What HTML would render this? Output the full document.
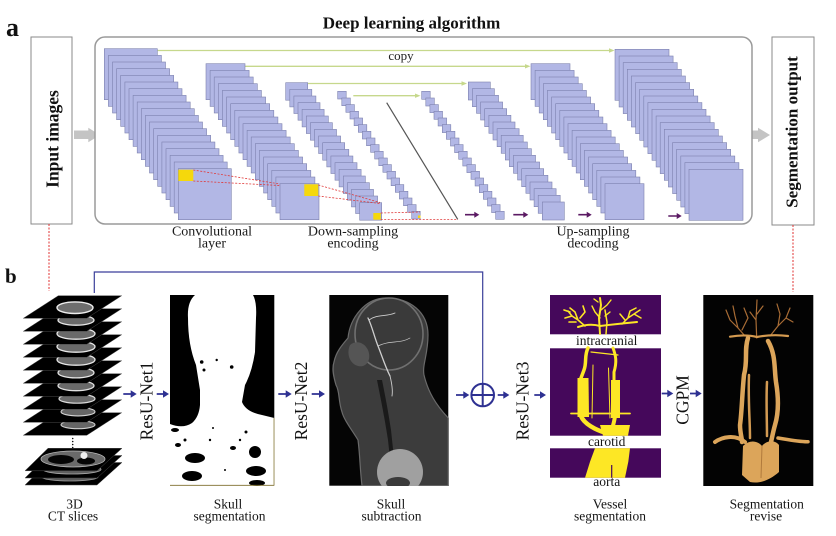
<!DOCTYPE html>
<html><head><meta charset="utf-8"><style>
html,body{margin:0;padding:0;background:#fff;}
svg{display:block;font-family:"Liberation Serif",serif;}
.s rect{fill:#b2b7e5;stroke:#7c81ae;stroke-width:.6;}
.t{font-size:13.5px;fill:#151515;text-anchor:middle;}
.ta{font-size:14px;fill:#1a1a1a;text-anchor:middle;}
.blue{fill:#2e3192;}
</style></head><body>
<svg width="836" height="536" viewBox="0 0 836 536" xmlns="http://www.w3.org/2000/svg">
<rect width="836" height="536" fill="#fff"/>

<text x="6" y="36" font-size="26" font-weight="bold" fill="#111">a</text>
<text x="5" y="283" font-size="21" font-weight="bold" fill="#111">b</text>
<text x="411.5" y="28.5" font-size="17" font-weight="bold" text-anchor="middle" fill="#111">Deep learning algorithm</text>

<rect x="31" y="37" width="41" height="187" fill="#fff" stroke="#8a8a8a" stroke-width="1"/>
<text transform="translate(58.6,139) rotate(-90)" font-size="17.5" font-weight="bold" text-anchor="middle" fill="#111">Input images</text>
<rect x="772" y="37" width="42" height="188" fill="#fff" stroke="#8a8a8a" stroke-width="1"/>
<text transform="translate(797.5,132) rotate(-90)" font-size="17" font-weight="bold" text-anchor="middle" fill="#111">Segmentation output</text>

<path d="M74,130.5 H88.3 V127.7 L100,135 L88.3,142.3 V139 H74 Z" fill="#c4c4c4"/>
<path d="M744,130.5 H758 V127.7 L770,135 L758,142.3 V139 H744 Z" fill="#c4c4c4"/>

<rect x="95" y="37" width="657" height="187" rx="10" ry="10" fill="#fff" stroke="#9a9a9a" stroke-width="1.5"/>

<g stroke="#c6d88c" stroke-width="1.3" fill="none">
<line x1="157.7" y1="50.5" x2="610" y2="50.5"/>
<line x1="245" y1="66.3" x2="526" y2="66.3"/>
<line x1="307.3" y1="83.5" x2="462.5" y2="83.5"/>
<line x1="353.3" y1="95.7" x2="416" y2="95.7"/>
</g>
<g fill="#c6d88c">
<polygon points="609,48.3 614.5,50.5 609,52.7"/>
<polygon points="525,64.1 530.5,66.3 525,68.5"/>
<polygon points="461.5,81.3 467,83.5 461.5,85.7"/>
<polygon points="415,93.5 420.5,95.7 415,97.9"/>
</g>
<text x="401" y="60" font-size="13" text-anchor="middle" fill="#222">copy</text>

<g class="s" transform="translate(104.3,48.7)">
<rect x="0" y="0" width="53" height="51"/><rect x="4.1" y="6.7" width="53" height="51"/><rect x="8.2" y="13.3" width="53" height="51"/><rect x="12.3" y="20" width="53" height="51"/><rect x="16.4" y="26.7" width="53" height="51"/><rect x="20.6" y="33.3" width="53" height="51"/><rect x="24.7" y="40" width="53" height="51"/><rect x="28.8" y="46.7" width="53" height="51"/><rect x="32.9" y="53.3" width="53" height="51"/><rect x="37" y="60" width="53" height="51"/><rect x="41.1" y="66.7" width="53" height="51"/><rect x="45.2" y="73.3" width="53" height="51"/><rect x="49.3" y="80" width="53" height="51"/><rect x="53.4" y="86.7" width="53" height="51"/><rect x="57.6" y="93.3" width="53" height="51"/><rect x="61.7" y="100" width="53" height="51"/><rect x="65.8" y="106.7" width="53" height="51"/><rect x="69.9" y="113.3" width="53" height="51"/><rect x="74" y="120" width="53" height="51"/>
</g>
<g class="s" transform="translate(206,63.7)">
<rect x="0" y="0" width="39" height="36"/><rect x="4.1" y="6.7" width="39" height="36"/><rect x="8.2" y="13.3" width="39" height="36"/><rect x="12.3" y="20" width="39" height="36"/><rect x="16.4" y="26.7" width="39" height="36"/><rect x="20.6" y="33.3" width="39" height="36"/><rect x="24.7" y="40" width="39" height="36"/><rect x="28.8" y="46.7" width="39" height="36"/><rect x="32.9" y="53.3" width="39" height="36"/><rect x="37" y="60" width="39" height="36"/><rect x="41.1" y="66.7" width="39" height="36"/><rect x="45.2" y="73.3" width="39" height="36"/><rect x="49.3" y="80" width="39" height="36"/><rect x="53.4" y="86.7" width="39" height="36"/><rect x="57.6" y="93.3" width="39" height="36"/><rect x="61.7" y="100" width="39" height="36"/><rect x="65.8" y="106.7" width="39" height="36"/><rect x="69.9" y="113.3" width="39" height="36"/><rect x="74" y="120" width="39" height="36"/>
</g>
<g class="s" transform="translate(285.7,82.7)">
<rect x="0" y="0" width="22" height="17.5"/><rect x="4.1" y="6.7" width="22" height="17.5"/><rect x="8.2" y="13.3" width="22" height="17.5"/><rect x="12.3" y="20" width="22" height="17.5"/><rect x="16.4" y="26.7" width="22" height="17.5"/><rect x="20.6" y="33.3" width="22" height="17.5"/><rect x="24.7" y="40" width="22" height="17.5"/><rect x="28.8" y="46.7" width="22" height="17.5"/><rect x="32.9" y="53.3" width="22" height="17.5"/><rect x="37" y="60" width="22" height="17.5"/><rect x="41.1" y="66.7" width="22" height="17.5"/><rect x="45.2" y="73.3" width="22" height="17.5"/><rect x="49.3" y="80" width="22" height="17.5"/><rect x="53.4" y="86.7" width="22" height="17.5"/><rect x="57.6" y="93.3" width="22" height="17.5"/><rect x="61.7" y="100" width="22" height="17.5"/><rect x="65.8" y="106.7" width="22" height="17.5"/><rect x="69.9" y="113.3" width="22" height="17.5"/><rect x="74" y="120" width="22" height="17.5"/>
</g>
<g class="s" transform="translate(337.7,91.3)">
<rect x="0" y="0" width="8.5" height="7.7"/><rect x="4.1" y="6.7" width="8.5" height="7.7"/><rect x="8.2" y="13.3" width="8.5" height="7.7"/><rect x="12.3" y="20" width="8.5" height="7.7"/><rect x="16.4" y="26.7" width="8.5" height="7.7"/><rect x="20.6" y="33.3" width="8.5" height="7.7"/><rect x="24.7" y="40" width="8.5" height="7.7"/><rect x="28.8" y="46.7" width="8.5" height="7.7"/><rect x="32.9" y="53.3" width="8.5" height="7.7"/><rect x="37" y="60" width="8.5" height="7.7"/><rect x="41.1" y="66.7" width="8.5" height="7.7"/><rect x="45.2" y="73.3" width="8.5" height="7.7"/><rect x="49.3" y="80" width="8.5" height="7.7"/><rect x="53.4" y="86.7" width="8.5" height="7.7"/><rect x="57.6" y="93.3" width="8.5" height="7.7"/><rect x="61.7" y="100" width="8.5" height="7.7"/><rect x="65.8" y="106.7" width="8.5" height="7.7"/><rect x="69.9" y="113.3" width="8.5" height="7.7"/><rect x="74" y="120" width="8.5" height="7.7"/>
</g>
<g class="s" transform="translate(421.7,91.3)">
<rect x="0" y="0" width="8.5" height="8"/><rect x="4.1" y="6.7" width="8.5" height="8"/><rect x="8.2" y="13.3" width="8.5" height="8"/><rect x="12.3" y="20" width="8.5" height="8"/><rect x="16.4" y="26.7" width="8.5" height="8"/><rect x="20.6" y="33.3" width="8.5" height="8"/><rect x="24.7" y="40" width="8.5" height="8"/><rect x="28.8" y="46.7" width="8.5" height="8"/><rect x="32.9" y="53.3" width="8.5" height="8"/><rect x="37" y="60" width="8.5" height="8"/><rect x="41.1" y="66.7" width="8.5" height="8"/><rect x="45.2" y="73.3" width="8.5" height="8"/><rect x="49.3" y="80" width="8.5" height="8"/><rect x="53.4" y="86.7" width="8.5" height="8"/><rect x="57.6" y="93.3" width="8.5" height="8"/><rect x="61.7" y="100" width="8.5" height="8"/><rect x="65.8" y="106.7" width="8.5" height="8"/><rect x="69.9" y="113.3" width="8.5" height="8"/><rect x="74" y="120" width="8.5" height="8"/>
</g>
<g class="s" transform="translate(468.3,82)">
<rect x="0" y="0" width="22" height="18"/><rect x="4.1" y="6.7" width="22" height="18"/><rect x="8.2" y="13.3" width="22" height="18"/><rect x="12.3" y="20" width="22" height="18"/><rect x="16.4" y="26.7" width="22" height="18"/><rect x="20.6" y="33.3" width="22" height="18"/><rect x="24.7" y="40" width="22" height="18"/><rect x="28.8" y="46.7" width="22" height="18"/><rect x="32.9" y="53.3" width="22" height="18"/><rect x="37" y="60" width="22" height="18"/><rect x="41.1" y="66.7" width="22" height="18"/><rect x="45.2" y="73.3" width="22" height="18"/><rect x="49.3" y="80" width="22" height="18"/><rect x="53.4" y="86.7" width="22" height="18"/><rect x="57.6" y="93.3" width="22" height="18"/><rect x="61.7" y="100" width="22" height="18"/><rect x="65.8" y="106.7" width="22" height="18"/><rect x="69.9" y="113.3" width="22" height="18"/><rect x="74" y="120" width="22" height="18"/>
</g>
<g class="s" transform="translate(531,63.7)">
<rect x="0" y="0" width="39" height="36"/><rect x="4.1" y="6.7" width="39" height="36"/><rect x="8.2" y="13.3" width="39" height="36"/><rect x="12.3" y="20" width="39" height="36"/><rect x="16.4" y="26.7" width="39" height="36"/><rect x="20.6" y="33.3" width="39" height="36"/><rect x="24.7" y="40" width="39" height="36"/><rect x="28.8" y="46.7" width="39" height="36"/><rect x="32.9" y="53.3" width="39" height="36"/><rect x="37" y="60" width="39" height="36"/><rect x="41.1" y="66.7" width="39" height="36"/><rect x="45.2" y="73.3" width="39" height="36"/><rect x="49.3" y="80" width="39" height="36"/><rect x="53.4" y="86.7" width="39" height="36"/><rect x="57.6" y="93.3" width="39" height="36"/><rect x="61.7" y="100" width="39" height="36"/><rect x="65.8" y="106.7" width="39" height="36"/><rect x="69.9" y="113.3" width="39" height="36"/><rect x="74" y="120" width="39" height="36"/>
</g>
<g class="s" transform="translate(615,49.3)">
<rect x="0" y="0" width="54" height="51"/><rect x="4.1" y="6.7" width="54" height="51"/><rect x="8.2" y="13.3" width="54" height="51"/><rect x="12.3" y="20" width="54" height="51"/><rect x="16.4" y="26.7" width="54" height="51"/><rect x="20.6" y="33.3" width="54" height="51"/><rect x="24.7" y="40" width="54" height="51"/><rect x="28.8" y="46.7" width="54" height="51"/><rect x="32.9" y="53.3" width="54" height="51"/><rect x="37" y="60" width="54" height="51"/><rect x="41.1" y="66.7" width="54" height="51"/><rect x="45.2" y="73.3" width="54" height="51"/><rect x="49.3" y="80" width="54" height="51"/><rect x="53.4" y="86.7" width="54" height="51"/><rect x="57.6" y="93.3" width="54" height="51"/><rect x="61.7" y="100" width="54" height="51"/><rect x="65.8" y="106.7" width="54" height="51"/><rect x="69.9" y="113.3" width="54" height="51"/><rect x="74" y="120" width="54" height="51"/>
</g>

<line x1="386.7" y1="102.7" x2="457.7" y2="219.3" stroke="#555" stroke-width="1.2"/>

<rect x="178.3" y="169.7" width="15" height="11.3" fill="#f5d80c"/>
<rect x="304.3" y="184.3" width="14" height="11.7" fill="#f5d80c"/>
<rect x="373.3" y="213" width="7.5" height="6.7" fill="#f5d80c"/>
<rect x="418" y="215.5" width="2.5" height="2.5" fill="#f5d80c"/>

<g stroke="#e03a3a" stroke-width=".8" stroke-dasharray="2,1.5" fill="none">
<line x1="193.3" y1="170" x2="280" y2="184"/>
<line x1="193.3" y1="181" x2="280" y2="185.5"/>
<line x1="318.3" y1="185" x2="380" y2="202.5"/>
<line x1="318.3" y1="196" x2="380" y2="203.5"/>
<line x1="380.7" y1="213" x2="420" y2="212"/>
<line x1="380.7" y1="219.5" x2="458" y2="219.5"/>
</g>

<g fill="#5b1a63">
<path d="M465,213.9 H474.3 V211.7 L479.3,214.7 L474.3,217.7 V215.5 H465 Z"/>
<path d="M513.3,213.9 H523.3 V211.7 L528.3,214.7 L523.3,217.7 V215.5 H513.3 Z"/>
<path d="M578.3,213.9 H586.7 V211.7 L591.7,214.7 L586.7,217.7 V215.5 H578.3 Z"/>
<path d="M668.3,215.2 H676.7 V213 L681.7,216 L676.7,219 V216.8 H668.3 Z"/>
</g>

<text class="ta" x="212" y="235.5">Convolutional</text>
<text class="ta" x="212" y="247.5">layer</text>
<text class="ta" x="353" y="235.5">Down-sampling</text>
<text class="ta" x="353" y="247.5">encoding</text>
<text class="ta" x="593" y="235.5">Up-sampling</text>
<text class="ta" x="593" y="247.5">decoding</text>

<line x1="49" y1="224" x2="49" y2="291" stroke="#e03030" stroke-width="1" stroke-dasharray="2,1.5"/>
<line x1="793" y1="225" x2="793" y2="292" stroke="#e03030" stroke-width="1" stroke-dasharray="2,1.5"/>

<polyline points="94.3,293 94.3,272 482.7,272 482.7,383.5" fill="none" stroke="#3a3f9a" stroke-width="1.2"/>

<g stroke="#4a4a4a" stroke-width=".5">
<polygon points="58.3,412.7 121.7,412.7 86.7,435.3 23.3,435.3" fill="#000"/>
<ellipse cx="78" cy="424.7" rx="17" ry="4" fill="#666" stroke="#cfcfcf" stroke-width="1.1"/>
<polygon points="58.3,399.7 121.7,399.7 86.7,422.3 23.3,422.3" fill="#000"/>
<ellipse cx="78" cy="411.7" rx="17" ry="4.2" fill="#666" stroke="#d5d5d5" stroke-width="1.1"/>
<polygon points="58.3,386.7 121.7,386.7 86.7,409.3 23.3,409.3" fill="#000"/>
<ellipse cx="77" cy="398.7" rx="18" ry="4.5" fill="#6a6a6a" stroke="#dadada" stroke-width="1.2"/>
<polygon points="58.3,373.7 121.7,373.7 86.7,396.3 23.3,396.3" fill="#000"/>
<ellipse cx="76" cy="385.7" rx="18" ry="5" fill="#6a6a6a" stroke="#e0e0e0" stroke-width="1.3"/>
<polygon points="58.3,360.7 121.7,360.7 86.7,383.3 23.3,383.3" fill="#000"/>
<ellipse cx="76" cy="372.7" rx="18" ry="5.2" fill="#6a6a6a" stroke="#e4e4e4" stroke-width="1.3"/>
<polygon points="58.3,347.7 121.7,347.7 86.7,370.3 23.3,370.3" fill="#000"/>
<ellipse cx="76" cy="359.7" rx="19" ry="5.5" fill="#6a6a6a" stroke="#e8e8e8" stroke-width="1.3"/>
<polygon points="58.3,334.7 121.7,334.7 86.7,357.3 23.3,357.3" fill="#000"/>
<ellipse cx="76" cy="346.7" rx="19" ry="5.5" fill="#6a6a6a" stroke="#e8e8e8" stroke-width="1.3"/>
<polygon points="58.3,321.7 121.7,321.7 86.7,344.3 23.3,344.3" fill="#000"/>
<ellipse cx="76" cy="333.7" rx="19" ry="5.5" fill="#6a6a6a" stroke="#e8e8e8" stroke-width="1.3"/>
<polygon points="58.3,308.7 121.7,308.7 86.7,331.3 23.3,331.3" fill="#000"/>
<ellipse cx="76" cy="320.2" rx="18" ry="5" fill="#6a6a6a" stroke="#e8e8e8" stroke-width="1.3"/>
<polygon points="58.3,295.7 121.7,295.7 86.7,318.3 23.3,318.3" fill="#000"/>
<ellipse cx="75" cy="307.7" rx="18" ry="5.8" fill="#6e6e6e" stroke="#eeeeee" stroke-width="1.4"/>
</g>
<g fill="#111">
<circle cx="72.7" cy="438.5" r=".8"/><circle cx="72.7" cy="441.5" r=".8"/><circle cx="72.7" cy="444.5" r=".8"/><circle cx="72.7" cy="447.5" r=".8"/>
</g>
<g stroke="#4a4a4a" stroke-width=".5">
<polygon points="48,462.5 122,462.5 97,485 25,485" fill="#000"/>
<ellipse cx="70" cy="477" rx="28" ry="4" fill="#5a5a5a" stroke="#999" stroke-width=".8"/>
<polygon points="48,455.5 122,455.5 97,478 25,478" fill="#000"/>
<ellipse cx="72" cy="469.5" rx="29" ry="4.5" fill="#5f5f5f" stroke="#aaa" stroke-width=".8"/>
<polygon points="48,448.3 122,448.3 97,470.8 25,470.8" fill="#000"/>
<ellipse cx="73" cy="459" rx="32" ry="8" fill="#6a6a6a" stroke="#bbb" stroke-width=".8"/>
<ellipse cx="61" cy="459.5" rx="13" ry="4.5" fill="#050505" stroke="none"/>
<ellipse cx="86" cy="461" rx="9" ry="3.5" fill="#050505" stroke="none"/>
<circle cx="84" cy="455.5" r="3.5" fill="#eee" stroke="none"/>
</g>

<rect x="170" y="295" width="104.3" height="190.7" fill="#000"/>
<path d="M195,295 L253,295 Q257,302 256,318 L255,352 Q252,372 245,385 L242,402 Q246,412 262,415 L274.3,418 L274.3,485.7 L170,485.7 L170,424 Q183,429 192,423 Q199,417 200,405 L200,390 L196,365 Q188,345 188,318 Q187,302 195,295 Z" fill="#fff"/>
<g fill="#000">
<ellipse cx="195" cy="458" rx="10" ry="5"/>
<ellipse cx="192" cy="476" rx="10" ry="5"/>
<ellipse cx="255" cy="452" rx="6" ry="6"/>
<ellipse cx="256" cy="471" rx="10" ry="5"/>
<ellipse cx="257" cy="483" rx="8" ry="3"/>
<ellipse cx="175" cy="430" rx="4" ry="2"/>
<ellipse cx="178" cy="445" rx="3" ry="2"/>
<ellipse cx="233" cy="448" rx="3" ry="2"/>
<circle cx="201.7" cy="362" r="1.8"/><circle cx="216.7" cy="360" r="1.2"/><circle cx="231.7" cy="367" r="1.8"/><circle cx="204" cy="370" r="1.5"/>
<circle cx="210" cy="440" r="1.2"/><circle cx="240" cy="440" r="1.2"/><circle cx="225" cy="470" r="1"/><circle cx="213" cy="428" r="1"/><circle cx="246" cy="432" r="1.5"/><circle cx="185" cy="440" r="1.5"/>
</g>
<line x1="274" y1="418" x2="274" y2="485.5" stroke="#8b7d3a" stroke-width=".8"/>
<line x1="170" y1="485.3" x2="274" y2="485.3" stroke="#8b7d3a" stroke-width=".8"/>

<rect x="329.3" y="295" width="119" height="190.7" fill="#050505"/>
<path d="M386,298 C410,298 428,312 428,335 C428,355 422,365 424,375 C428,392 436,405 448.3,418 L448.3,485.7 L362,485.7 C360,470 360,455 358,440 C352,430 344,420 342,412 C338,400 340,392 336,385 C333,375 332,368 334,362 C336,352 342,345 348,338 C350,318 365,298 386,298 Z" fill="#3c3c3c" stroke="#6a6a6a" stroke-width="1.2"/>
<ellipse cx="389" cy="334" rx="34" ry="36" fill="#3a3a3a" stroke="#707070" stroke-width="1.6"/>
<path d="M350,345 C356,340 364,342 368,350 C372,360 366,368 358,366 C350,364 346,354 350,345 Z" fill="#555"/>
<path d="M377,380 C381,400 385,420 388,440 L391,468 L395,468 L391,430 C388,410 385,395 382,380 Z" fill="#1a1a1a"/>
<g fill="none" stroke="#cfcfcf" stroke-linecap="round">
<path d="M368,318 C372,326 374,336 378,346 C382,356 385,366 390,376" stroke-width="1.3"/>
<path d="M369,320 C377,314 386,317 395,313" stroke-width=".9"/>
<path d="M378,346 C390,340 400,344 410,338" stroke-width=".7"/>
<path d="M390,376 C392,384 393,390 392,396" stroke-width=".9"/>
</g>
<circle cx="400" cy="472" r="23" fill="#a0a0a0"/>
<ellipse cx="398" cy="483" rx="12" ry="6" fill="#3a3a3a"/>
<rect x="329.3" y="486" width="120" height="10" fill="#fff"/>

<circle cx="482.7" cy="395" r="11.3" fill="#fff" stroke="#2e3192" stroke-width="2"/>
<line x1="471.4" y1="395" x2="494" y2="395" stroke="#2e3192" stroke-width="2"/>
<line x1="482.7" y1="383.7" x2="482.7" y2="406.3" stroke="#2e3192" stroke-width="2"/>

<g class="blue">
<path d="M123.3,393.1 H130.7 V390.2 L136.7,394 L130.7,397.8 V394.9 H123.3 Z"/>
<path d="M156.7,393.1 H163 V390.2 L169,394 L163,397.8 V394.9 H156.7 Z"/>
<path d="M278.3,393.1 H285.7 V390.2 L291.7,394 L285.7,397.8 V394.9 H278.3 Z"/>
<path d="M311.7,393.1 H319 V390.2 L325,394 L319,397.8 V394.9 H311.7 Z"/>
<path d="M456,394.1 H463.3 V391.2 L469.3,395 L463.3,398.8 V395.9 H456 Z"/>
<path d="M497.7,394.1 H503.3 V391.2 L509.3,395 L503.3,398.8 V395.9 H497.7 Z"/>
<path d="M534.3,394.1 H540 V391.2 L546,395 L540,398.8 V395.9 H534.3 Z"/>
<path d="M661.7,392.6 H667.3 V389.7 L673.3,393.5 L667.3,397.3 V394.4 H661.7 Z"/>
<path d="M690,392.6 H695.7 V389.7 L701.7,393.5 L695.7,397.3 V394.4 H690 Z"/>
</g>

<text transform="translate(152.6,401) rotate(-90)" font-size="17.5" text-anchor="middle" fill="#111">ResU-Net1</text>
<text transform="translate(307,401) rotate(-90)" font-size="17.5" text-anchor="middle" fill="#111">ResU-Net2</text>
<text transform="translate(528.5,401) rotate(-90)" font-size="17.5" text-anchor="middle" fill="#111">ResU-Net3</text>
<text transform="translate(688.3,400) rotate(-90)" font-size="17.5" text-anchor="middle" fill="#111">CGPM</text>

<rect x="550" y="295" width="111" height="39.3" fill="#45085b"/>
<rect x="550" y="348.3" width="111" height="87.4" fill="#45085b"/>
<rect x="550" y="448.3" width="111" height="29.4" fill="#45085b"/>
<g fill="none" stroke="#fde725" stroke-linecap="round" stroke-linejoin="round">
<path d="M600,334 L599,318 L601,305 L600,298" stroke-width="2"/>
<path d="M606,334 L607,322 L605,310" stroke-width="1.5"/>
<path d="M578,327 Q590,323 600,326 Q615,324 637,322" stroke-width="2"/>
<path d="M585,326 L578,320 L572,316 L568,311 M578,320 L575,312 L570,308 M572,316 L565,318 M580,318 L585,312 L583,306 M570,312 L564,310 M576,322 L569,322" stroke-width="1.6"/>
<path d="M622,324 L628,318 L634,314 L640,310 M628,318 L630,311 L636,308 M634,314 L641,318 M625,320 L620,314" stroke-width="1.5"/>
<path d="M600,318 L595,312 L592,306 M601,310 L607,305 L611,300 M605,316 L610,312 M598,302 L594,299" stroke-width="1.4"/>
<path d="M588,348 C584,356 587,362 584,370 L581,378" stroke-width="3.5"/>
<path d="M581,416 C584,424 596,430 606,433" stroke-width="4.5"/>
<path d="M613,348 C616,356 617,362 614,372 L614,380" stroke-width="3"/>
<path d="M615,416 C614,424 612,428 611,433" stroke-width="4"/>
<path d="M571,413.5 H630" stroke-width="1.8"/>
<path d="M593,365 L592,418 M608.5,368 L610,418" stroke-width="1"/>
<path d="M591,352 L618,355" stroke-width="1.2"/>
</g>
<g fill="#fde725">
<polygon points="577.5,378 588.5,378 589,417 577.5,417"/>
<polygon points="611,380 620,380 620,418 611,418"/>
<polygon points="600,425 630,425 628,435.7 603,435.7"/>
<polygon points="595,448.3 630,448.3 628.3,461.7 625,477.7 585,477.7 590,461.7"/>
</g>
<line x1="611.7" y1="465" x2="611.7" y2="477.7" stroke="#45085b" stroke-width="1.2"/>
<text class="t" x="606.7" y="345">intracranial</text>
<text class="t" x="606.7" y="446">carotid</text>
<text class="t" x="606.7" y="486">aorta</text>

<rect x="703.3" y="295" width="110" height="191" fill="#030303"/>
<g fill="none" stroke-linecap="round" stroke-linejoin="round">
<path d="M756.7,338 L756,320 L757,300 M745,336 L738,328 L730,320 L726,310 M738,328 L735,316 L733,306 M742,330 L748,318 L744,308 M770,336 L778,326 L786,318 L790,308 M778,326 L780,314 L777,304 M786,318 L793,322 M756,320 L750,312 M757,314 L763,306" stroke="#a86c35" stroke-width="1.2"/>
<path d="M730,336.7 Q745,334 757,337 Q772,334 788,336" stroke="#d49a50" stroke-width="2.2"/>
<path d="M748,338 C744,350 748,360 744,375 C742,395 742,410 740,425 C740,433 742,438 742,442" stroke="#dca55a" stroke-width="4.5"/>
<path d="M749,375 C748,400 750,420 750,438" stroke="#d29a52" stroke-width="2.5"/>
<path d="M768,341 C776,355 774,368 776,382 C779,400 778,415 775,425 C773,432 772,438 771,442" stroke="#dca55a" stroke-width="4.5"/>
<path d="M767,382 C766,400 767,420 767,436" stroke="#d29a52" stroke-width="2.5"/>
<path d="M715,442 C722,437 735,434 745,442" stroke="#dca55a" stroke-width="4"/>
<path d="M778,438 C790,440 800,442 808,441.7" stroke="#dca55a" stroke-width="3.5"/>
</g>
<path d="M743,446 C750,439 758,441 762,446 C766,441 774,439 779,445 L779,472 C770,480 760,484 750,482 L742,475 Z" fill="#dca55a"/>
<path d="M762,446 L761,478" stroke="#b07a3c" stroke-width="1" fill="none"/>

<text class="t" x="74.5" y="508.5">3D</text>
<text class="t" x="73" y="520.5">CT slices</text>
<text class="t" x="228" y="508.5">Skull</text>
<text class="t" x="229.5" y="520.5">segmentation</text>
<text class="t" x="391" y="508.5">Skull</text>
<text class="t" x="391.5" y="520.5">subtraction</text>
<text class="t" x="610" y="508.5">Vessel</text>
<text class="t" x="610" y="520.5">segmentation</text>
<text class="t" x="766.8" y="508.5">Segmentation</text>
<text class="t" x="766" y="520.5">revise</text>
</svg>
</body></html>
